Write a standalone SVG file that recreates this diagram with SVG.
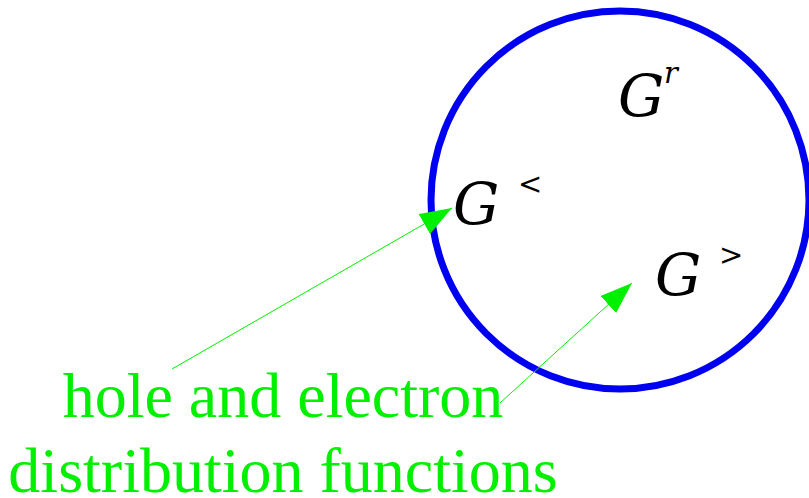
<svg xmlns="http://www.w3.org/2000/svg" width="809" height="498" viewBox="0 0 809 498">
<style>
.g{font-family:"DejaVu Serif",serif;font-style:italic;font-size:58px;fill:#000}
.sup{font-family:"DejaVu Serif",serif;font-size:29px;fill:#000}
.supi{font-family:"DejaVu Serif",serif;font-style:italic;font-size:29px;fill:#000}
.lbl{font-family:"Liberation Serif","Times New Roman",serif;font-size:64px;fill:#00f000;text-anchor:middle}
.conn{stroke:#00f000;stroke-width:1;fill:none;marker-end:url(#ah)}
</style>
<defs>
<marker id="ah" markerUnits="userSpaceOnUse" markerWidth="32" markerHeight="23" refX="32" refY="11.5" orient="auto">
<path d="M0,0 L32,11.5 L0,23 z" fill="#00f000"/>
</marker>
</defs>
<rect width="809" height="498" fill="#fff"/>
<g id="circle">
<circle cx="620" cy="200" r="189" fill="none" stroke="#0000f0" stroke-width="7"/>
</g>
<g id="Gr">
<text class="g" x="618" y="116">G</text>
<text class="supi" x="664" y="83">r</text>
</g>
<g id="Gless">
<text class="g" x="453" y="224">G</text>
<text class="sup" x="518" y="194">&lt;</text>
</g>
<g id="Ggreater">
<text class="g" x="655" y="295">G</text>
<text class="sup" x="719" y="265">&gt;</text>
</g>
<g id="label">
<text class="lbl" x="283" y="417">hole and electron</text>
<text class="lbl" x="283" y="492">distribution functions</text>
</g>
<g id="connectors">
<line class="conn" x1="172" y1="369" x2="452" y2="208"/>
<line class="conn" x1="500" y1="403" x2="632" y2="283"/>
</g>
</svg>
